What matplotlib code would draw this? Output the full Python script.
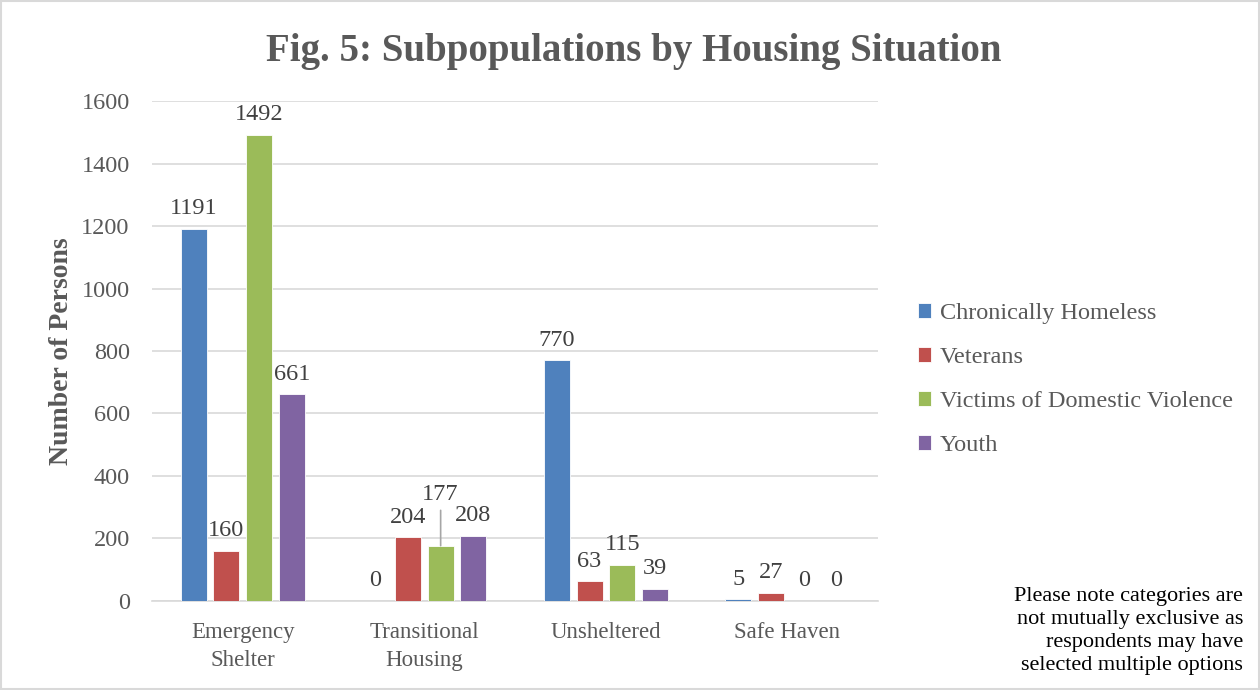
import numpy as np
import matplotlib
matplotlib.use('Agg')
import matplotlib.pyplot as plt
from matplotlib.patches import Rectangle

# データ
categories = ['Emergency\nShelter', 'Transitional\nHousing', 'Unsheltered', 'Safe Haven']
series_names = ['Chronically Homeless', 'Veterans', 'Victims of Domestic Violence', 'Youth']
chronically_homeless = [1191, 0, 770, 5]
veterans = [160, 204, 63, 27]
victims_dv = [1492, 177, 115, 0]
youth = [661, 208, 39, 0]
y_ticks = [0, 200, 400, 600, 800, 1000, 1200, 1400, 1600]

colors = ['#4F81BD', '#C0504D', '#9BBB59', '#8064A2']
txt = '#595959'

plt.rcParams['font.family'] = ['Liberation Serif', 'DejaVu Serif']

fig = plt.figure(figsize=(12.6, 6.9), dpi=100)
ax = fig.add_axes([0.1206, 0.129, 0.5764, 0.7246])

x = np.arange(len(categories))
width = 0.143
offsets = [-0.27, -0.09, 0.09, 0.27]
all_series = [chronically_homeless, veterans, victims_dv, youth]

for vals, off, color, name in zip(all_series, offsets, colors, series_names):
    bars = ax.bar(x + off, vals, width, color=color, label=name, zorder=3,
                  edgecolor='white', linewidth=0.6)
    for xi, v in zip(x + off, vals):
        if name == 'Victims of Domestic Violence' and v == 177:
            # ラベルを上にずらして引き出し線を描く
            ax.annotate(str(v), xy=(xi, v), xytext=(0, 37), textcoords='offset points',
                        ha='center', va='center', fontsize=17.5, color='#404040',
                        arrowprops=dict(arrowstyle='-', color='#a6a6a6', lw=1.2,
                                        shrinkA=2, shrinkB=0))
        else:
            ax.annotate(str(v), xy=(xi, v), xytext=(0, 7), textcoords='offset points',
                        ha='center', va='bottom', fontsize=17.5, color='#404040')

ax.set_xlim(-0.5, len(categories) - 0.5)
ax.set_ylim(0, 1600)
ax.set_yticks(y_ticks)
ax.set_xticks(x)
ax.set_xticklabels(categories, fontsize=16.5, color=txt, linespacing=1.45)
ax.tick_params(axis='y', length=0, pad=16, labelsize=17.5, labelcolor=txt)
ax.tick_params(axis='x', length=0, pad=15)
ax.yaxis.grid(True, color='#d9d9d9', linewidth=1.2, zorder=0)
ax.set_axisbelow(True)
for s in ['top', 'right', 'left']:
    ax.spines[s].set_visible(False)
ax.spines['bottom'].set_color('#d9d9d9')
ax.spines['bottom'].set_linewidth(1.2)

ax.set_ylabel('Number of Persons', fontsize=20, fontweight='bold', color=txt)
ax.yaxis.set_label_coords(-0.108, 0.5)

fig.suptitle('Fig. 5: Subpopulations by Housing Situation', fontsize=28,
             fontweight='bold', color=txt, x=0.503, y=0.952)

fig.legend(loc='center left', bbox_to_anchor=(0.711, 0.45), frameon=False,
           fontsize=17.5, handlelength=0.55, handleheight=0.55,
           handletextpad=0.35, labelspacing=0.95, labelcolor=txt)

fig.text(0.9865, 0.022, 'Please note categories are\nnot mutually exclusive as\n'
         'respondents may have\nselected multiple options',
         ha='right', va='bottom', fontsize=16, color='#000000', linespacing=1.28)

# 外枠
fig.patches.append(Rectangle((0.001, 0.002), 0.998, 0.996, transform=fig.transFigure,
                             fill=False, edgecolor='#d9d9d9', linewidth=1.5))

fig.savefig('out.png', dpi=100)
